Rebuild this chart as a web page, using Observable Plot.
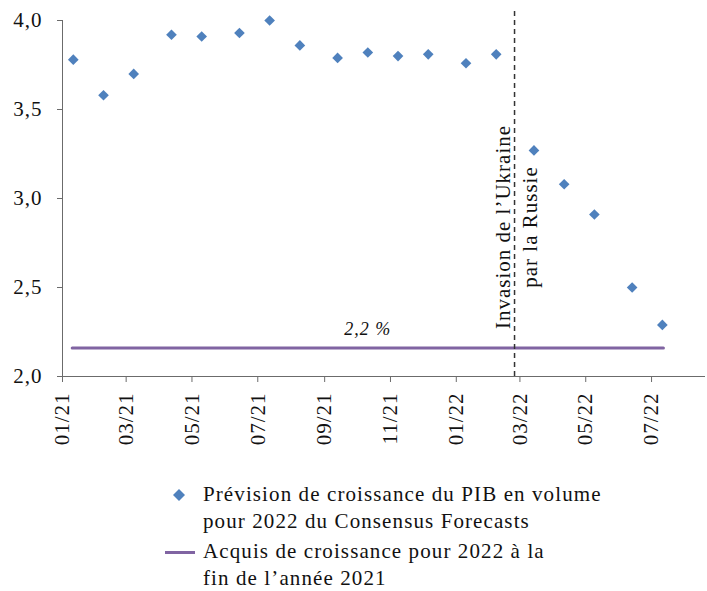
<!DOCTYPE html>
<html lang="fr">
<head>
<meta charset="utf-8">
<script src="https://cdn.jsdelivr.net/npm/d3@7"></script>
<script src="https://cdn.jsdelivr.net/npm/@observablehq/plot@0.6"></script>
<style>
  body { margin: 0; background: #fff; }
  #chart { position: relative; width: 707px; height: 591px; font-family: "Liberation Serif", serif; color: #111; }
  #chart svg { position: absolute; left: 0; top: 0; }
  .legend { position: absolute; left: 203px; font-size: 21px; letter-spacing: 1.1px; line-height: 26.5px; white-space: nowrap; }
  .key { position: absolute; }
</style>
</head>
<body>
<div id="chart"></div>
<script>
// Consensus Forecasts survey dates and the 2022 GDP growth forecast (%)
const surveyDates = ["2021-01-11", "2021-02-08", "2021-03-08", "2021-04-12", "2021-05-10", "2021-06-14",
  "2021-07-12", "2021-08-09", "2021-09-13", "2021-10-11", "2021-11-08", "2021-12-06",
  "2022-01-10", "2022-02-07", "2022-03-14", "2022-04-11", "2022-05-09", "2022-06-13", "2022-07-11"];
const forecastGDP2022 = [3.78, 3.58, 3.70, 3.92, 3.91, 3.93, 4.00, 3.86, 3.79, 3.82, 3.80, 3.81,
  3.76, 3.81, 3.27, 3.08, 2.91, 2.50, 2.29];

// Carry-over growth for 2022 at the end of 2021 (%), drawn across the survey period
const carryOverDates = ["2021-01-10", "2022-07-12"];
const carryOverValue = 2.16;

// Start of the invasion of Ukraine
const invasionDate = "2022-02-24";
const invasionLabel = "Invasion de l’Ukraine\npar la Russie";

// Axes
const xDomain = ["2021-01-01", "2022-08-20"];
const xTicks = ["2021-01-01", "2021-03-01", "2021-05-01", "2021-07-01", "2021-09-01", "2021-11-01",
  "2022-01-01", "2022-03-01", "2022-05-01", "2022-07-01"];
const yTicks = [2.0, 2.5, 3.0, 3.5, 4.0];

const legendLabels = [
  "Prévision de croissance du PIB en volume<br>pour 2022 du Consensus Forecasts",
  "Acquis de croissance pour 2022 à la<br>fin de l’année 2021"
];

const blue = "#4F81BD";
const purple = "#8064A2";
const axisColor = "#6b6b6b";
const frComma = (v, digits) => v.toFixed(digits).replace(".", ",");

const forecast = surveyDates.map((d, i) => ({date: new Date(d), value: forecastGDP2022[i]}));
const carryOver = carryOverDates.map(d => ({date: new Date(d), value: carryOverValue}));
const carryMid = new Date((carryOver[0].date.getTime() + carryOver[1].date.getTime()) / 2);
const invasion = [{date: new Date(invasionDate), from: 2, to: 4.07, mid: 2.84, label: invasionLabel}];

const plot = Plot.plot({
  width: 707,
  height: 470,
  marginLeft: 62,
  marginRight: 2,
  marginTop: 20,
  marginBottom: 94,
  style: {fontFamily: "'Liberation Serif', serif", fontSize: "21px", letterSpacing: "1px", color: "#111", background: "transparent", overflow: "visible"},
  x: {type: "utc", domain: xDomain.map(d => new Date(d))},
  y: {domain: [2, 4]},
  marks: [
    Plot.axisY({ticks: yTicks, tickSize: 5, tickPadding: 15, tickFormat: d => frComma(d, 1), stroke: axisColor, fill: "#111", label: null}),
    Plot.axisX({ticks: xTicks.map(d => new Date(d)), tickSize: 6, tickPadding: 10, tickRotate: -90,
      tickFormat: d3.utcFormat("%m/%y"), stroke: axisColor, fill: "#111", label: null}),
    Plot.ruleX([new Date(xDomain[0])], {stroke: axisColor, strokeWidth: 1}),
    Plot.ruleY([2], {stroke: axisColor, strokeWidth: 1.2}),
    Plot.line(carryOver, {x: "date", y: "value", stroke: purple, strokeWidth: 3}),
    Plot.text([{date: carryMid, value: carryOverValue}], {
      x: "date", y: "value", dy: -19, text: d => frComma(d.value, 1) + " %",
      fontStyle: "italic", fontSize: 18, fill: "#111"
    }),
    Plot.ruleX(invasion, {x: "date", y1: "from", y2: "to", stroke: "#333", strokeWidth: 1.5, strokeDasharray: "5,4"}),
    Plot.text(invasion, {
      x: "date", y: "mid", text: "label", rotate: -90, textAnchor: "middle", lineAnchor: "middle",
      lineHeight: 1.3, fontSize: 21, fill: "#111"
    }),
    Plot.dot(forecast, {x: "date", y: "value", symbol: "diamond2", r: 4.8, fill: blue, stroke: null})
  ]
});

const chart = document.getElementById("chart");
chart.appendChild(plot);

// Legend below the chart
const key1 = document.createElement("div");
key1.className = "key";
key1.style.cssText = "left:172px;top:488px;width:14px;height:14px;";
key1.innerHTML = `<svg width="14" height="14"><path d="M7,1 L13,7 L7,13 L1,7 Z" fill="${blue}"/></svg>`;
chart.appendChild(key1);

const key2 = document.createElement("div");
key2.className = "key";
key2.style.cssText = `left:165px;top:550.5px;width:30px;height:3px;background:${purple};`;
chart.appendChild(key2);

const leg1 = document.createElement("div");
leg1.className = "legend";
leg1.style.top = "481px";
leg1.innerHTML = legendLabels[0];
chart.appendChild(leg1);

const leg2 = document.createElement("div");
leg2.className = "legend";
leg2.style.top = "538px";
leg2.innerHTML = legendLabels[1];
chart.appendChild(leg2);
</script>
</body>
</html>
